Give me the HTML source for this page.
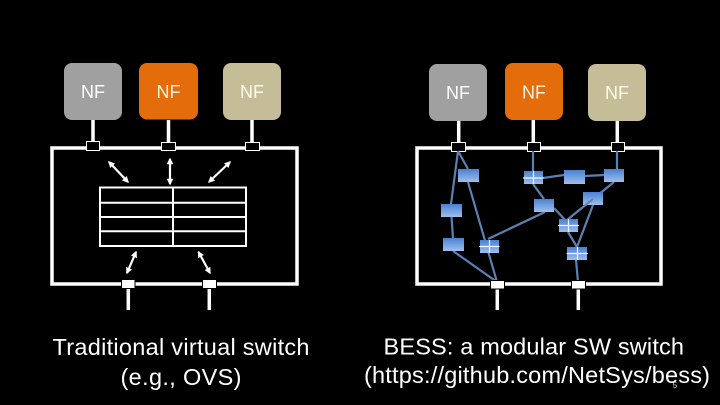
<!DOCTYPE html>
<html>
<head>
<meta charset="utf-8">
<style>
html,body{margin:0;padding:0;background:#000;width:720px;height:405px;overflow:hidden}
svg{display:block}
text{font-family:"Liberation Sans",sans-serif}
</style>
</head>
<body>
<svg width="720" height="405" viewBox="0 0 720 405" xmlns="http://www.w3.org/2000/svg">
<defs>
<linearGradient id="b" x1="0" y1="0" x2="0" y2="1">
<stop offset="0" stop-color="#4a80d2"/>
<stop offset="1" stop-color="#9dbfec"/>
</linearGradient>
<marker id="ah" viewBox="0 0 10 10" refX="8" refY="5" markerWidth="3" markerHeight="3" orient="auto-start-reverse">
<path d="M0 0L10 5L0 10Z" fill="#fff"/>
</marker>
</defs>
<rect width="720" height="405" fill="#000"/>

<!-- LEFT -->
<rect x="64" y="63" width="58" height="57" rx="8" fill="#a0a0a0"/>
<rect x="139" y="63" width="59" height="56.500" rx="8" fill="#e46c0a"/>
<rect x="223" y="63" width="58" height="57" rx="8" fill="#c4bd97"/>
<text x="93" y="98" font-size="18" fill="#fff" text-anchor="middle">NF</text>
<text x="168.500" y="98" font-size="18" fill="#fdf2e0" text-anchor="middle">NF</text>
<text x="252" y="98" font-size="18" fill="#fffbe8" text-anchor="middle">NF</text>
<g stroke="#fff" stroke-width="3.500" fill="none">
<path d="M93 120V142M168.500 120V142M252 120V142"/>
<rect x="52" y="148" width="245" height="136"/>
<path d="M128.300 288V310M209.300 288V310"/>
</g>
<g fill="#000" stroke="#fff" stroke-width="1">
<rect x="86.500" y="141.500" width="13" height="9"/>
<rect x="161.500" y="142.500" width="14" height="8"/>
<rect x="245.500" y="142.500" width="14" height="8"/>
</g>
<g fill="#fff" stroke="#000" stroke-width="1">
<rect x="121.500" y="279.500" width="13.500" height="9"/>
<rect x="202.500" y="279.500" width="14" height="9"/>
</g>
<g stroke="#fff" stroke-width="2" fill="none">
<rect x="100" y="187.500" width="146" height="58.500"/>
<path d="M100 202.700H246M100 217H246M100 231.300H246M173 187.500V246"/>
</g>
<g stroke="#fff" stroke-width="2.200" fill="none">
<path d="M109 162L128 182" marker-start="url(#ah)" marker-end="url(#ah)"/>
<path d="M170 159V184" marker-start="url(#ah)" marker-end="url(#ah)"/>
<path d="M230 162L209 182" marker-start="url(#ah)" marker-end="url(#ah)"/>
<path d="M136 252L127 273" marker-start="url(#ah)" marker-end="url(#ah)"/>
<path d="M198.500 252L210 273" marker-start="url(#ah)" marker-end="url(#ah)"/>
</g>

<!-- RIGHT -->
<rect x="429" y="64" width="58" height="57" rx="8" fill="#a0a0a0"/>
<rect x="505" y="63" width="58" height="57" rx="8" fill="#e46c0a"/>
<rect x="588" y="64" width="58" height="57" rx="8" fill="#c4bd97"/>
<text x="458" y="99" font-size="18" fill="#fff" text-anchor="middle">NF</text>
<text x="534" y="98.500" font-size="18" fill="#fdf2e0" text-anchor="middle">NF</text>
<text x="617" y="99" font-size="18" fill="#fffbe8" text-anchor="middle">NF</text>
<g stroke="#fff" stroke-width="3.500" fill="none">
<path d="M458.700 121V143M533.300 120V143M617.300 121V143"/>
<rect x="417" y="148" width="244" height="136"/>
<path d="M497.300 288V310M578.300 288V310"/>
</g>
<g fill="#000" stroke="#fff" stroke-width="1">
<rect x="451.500" y="142.500" width="14" height="9"/>
<rect x="527.500" y="142.500" width="13" height="9"/>
<rect x="611.500" y="142.500" width="13" height="9"/>
</g>
<g stroke="#5b80b2" stroke-width="2.200" fill="none">
<path d="M458 151L451 204M458 151L468 169"/>
<path d="M451.500 217L453 238M453 251L497 282M468 182L497 282"/>
<path d="M488 239L545 212"/>
<path d="M533 151V171M533 184L544 199M543 178L564 175M585 176L604 175"/>
<path d="M617 151V169M614 182L567 220M554 208L567 222"/>
<path d="M593 205L577 247M568 232L577 247M576 260L578 282"/>
</g>
<g fill="#fff" stroke="#000" stroke-width="1">
<rect x="490.500" y="280.500" width="14" height="8.500"/>
<rect x="571.500" y="280.500" width="14" height="8.500"/>
</g>
<g fill="url(#b)">
<rect x="458" y="169" width="21" height="13"/>
<rect x="441" y="204" width="21" height="13"/>
<rect x="443" y="238" width="21" height="13"/>
<rect x="480" y="240" width="19" height="13"/>
<rect x="524" y="171" width="19" height="13"/>
<rect x="564" y="170" width="21" height="14"/>
<rect x="604" y="169" width="20" height="13"/>
<rect x="534" y="199" width="20" height="13"/>
<rect x="583" y="192" width="20" height="13"/>
<rect x="559" y="219" width="19" height="13"/>
<rect x="567" y="247" width="20" height="13"/>
</g>
<path d="M567 220L593 199" stroke="#5b80b2" stroke-width="1.800" fill="none"/>
<g stroke="#f2f8ff" stroke-width="1.200" fill="none">
<path d="M479 246.500H499.500M489.500 240V253"/>
<path d="M523 178H543.500M533.500 171V184"/>
<path d="M558 225.500H579M568.500 219V232"/>
<path d="M566.500 253.500H588M577.500 247V260"/>
</g>

<!-- CAPTIONS -->
<g fill="#fff" font-size="23.500">
<text x="52.500" y="355" textLength="257" lengthAdjust="spacing">Traditional virtual switch</text>
<text x="120.500" y="385" textLength="121" lengthAdjust="spacing">(e.g., OVS)</text>
<text x="383.500" y="354.500" textLength="300.500" lengthAdjust="spacing">BESS: a modular SW switch</text>
<text x="364" y="383" textLength="346" lengthAdjust="spacing">(https://github.com/NetSys/bess)</text>
</g>
<text x="675" y="388" font-size="8" fill="#ddd" text-anchor="middle">5</text>
</svg>
</body>
</html>
